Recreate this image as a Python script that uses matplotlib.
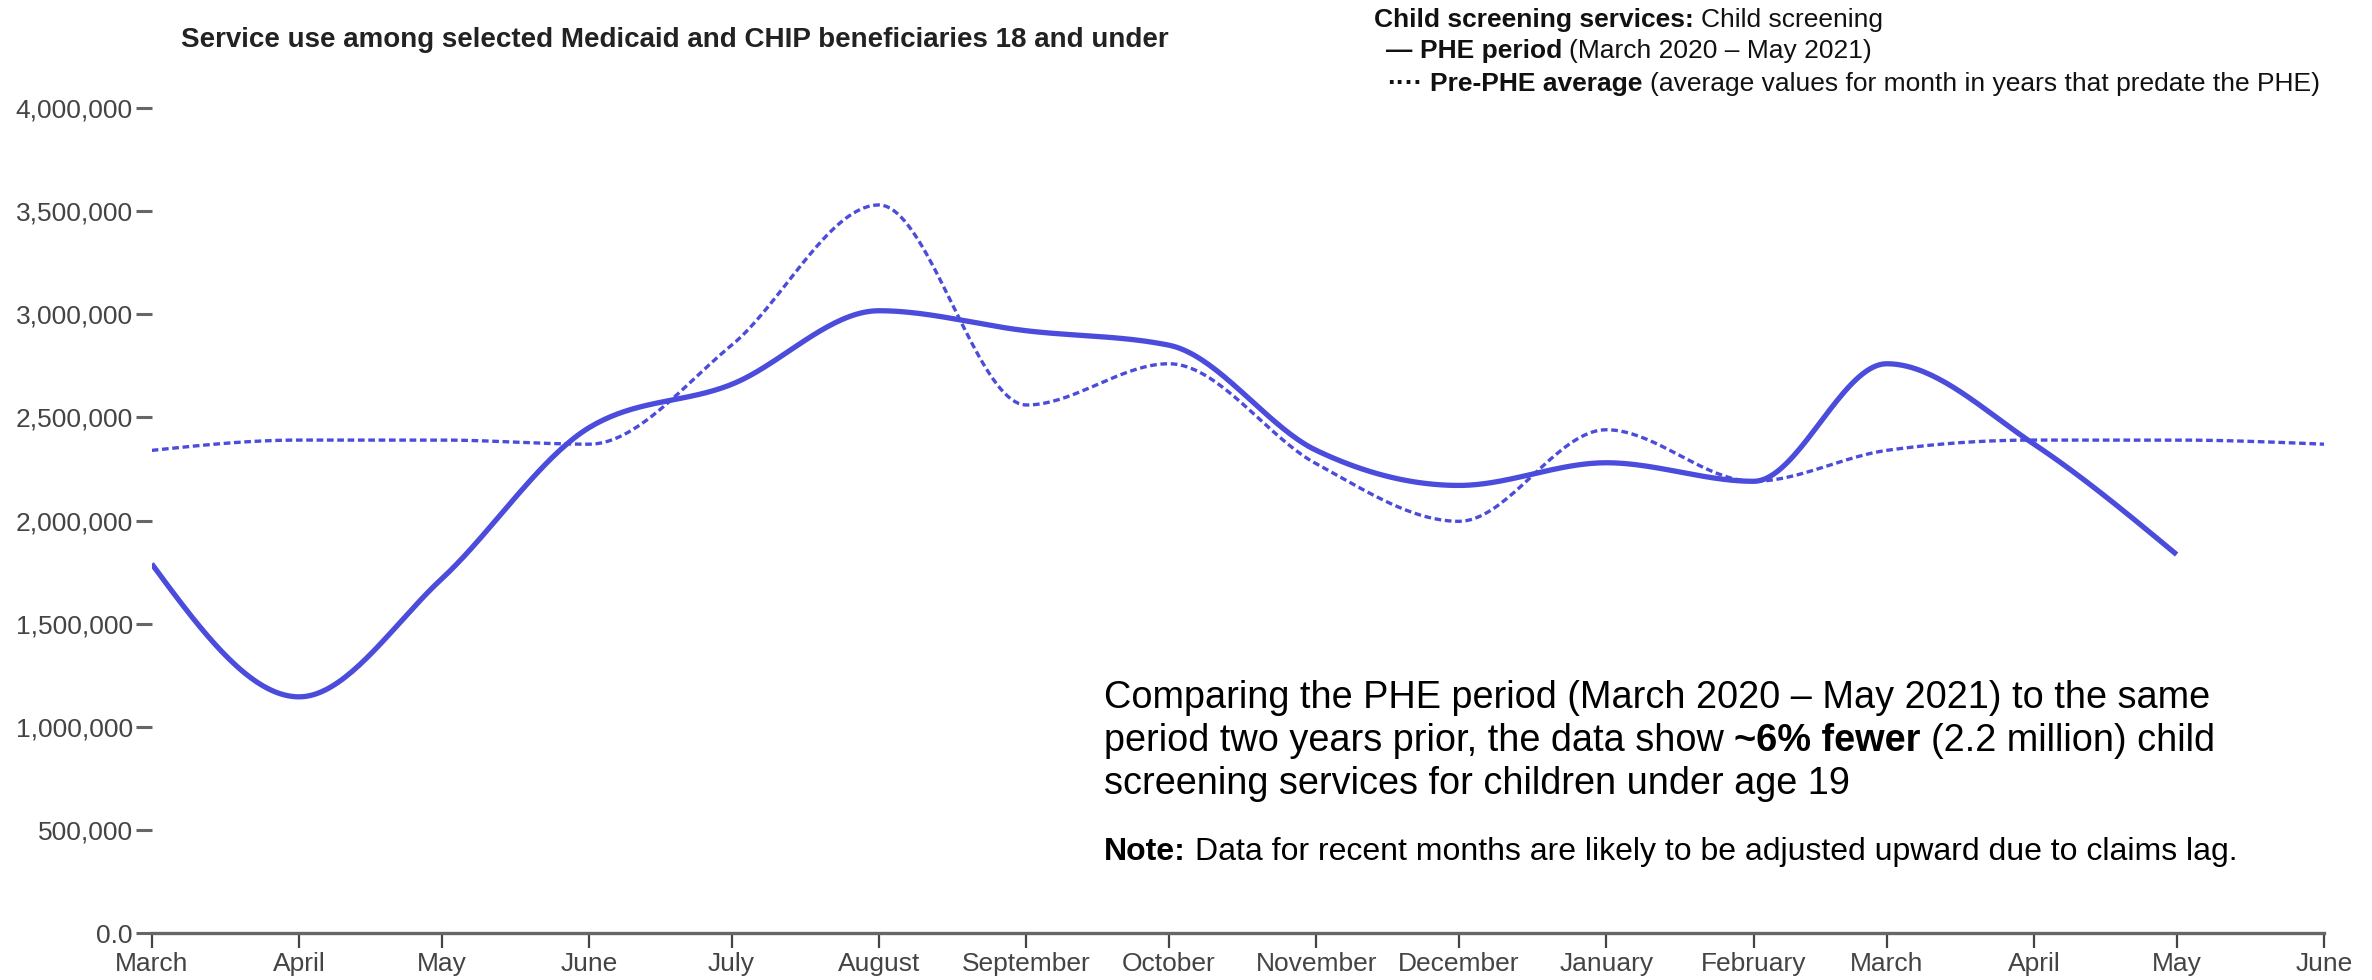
import numpy as np
import matplotlib
matplotlib.use("Agg")
import matplotlib.pyplot as plt
import matplotlib.dates as mdates
from matplotlib.ticker import FixedLocator, FixedFormatter
import datetime as dt

plt.rcParams['font.family'] = ['Liberation Sans', 'DejaVu Sans']

# ---------------- data ----------------
phe_months = ["2020-03", "2020-04", "2020-05", "2020-06", "2020-07", "2020-08", "2020-09",
              "2020-10", "2020-11", "2020-12", "2021-01", "2021-02", "2021-03", "2021-04", "2021-05"]
phe_values = [1790000, 1145000, 1717000, 2450000, 2660000, 3017000, 2920000,
              2850000, 2340000, 2170000, 2280000, 2190000, 2760000, 2370000, 1835000]

pre_months = ["2020-03", "2020-04", "2020-05", "2020-06", "2020-07", "2020-08", "2020-09",
              "2020-10", "2020-11", "2020-12", "2021-01", "2021-02", "2021-03", "2021-04",
              "2021-05", "2021-06"]
pre_values = [2340000, 2390000, 2390000, 2370000, 2850000, 3530000, 2560000,
              2760000, 2275000, 1996000, 2440000, 2190000, 2340000, 2390000,
              2390000, 2370000]

x_tick_months = pre_months
x_tick_labels = ["March", "April", "May", "June", "July", "August", "September", "October",
                 "November", "December", "January", "February", "March", "April", "May", "June"]
y_ticks = [0, 500000, 1000000, 1500000, 2000000, 2500000, 3000000, 3500000, 4000000]
y_tick_labels = ["0.0", "500,000", "1,000,000", "1,500,000", "2,000,000", "2,500,000",
                 "3,000,000", "3,500,000", "4,000,000"]

title = "Service use among selected Medicaid and CHIP beneficiaries 18 and under"

LINE = "#4b4bdc"


def to_num(months):
    return np.array([mdates.date2num(dt.datetime(int(m[:4]), int(m[5:]), 1)) for m in months])


def monotone_x(x, y, n=40):
    """d3.curveMonotoneX-style rendering curve through the given points."""
    x = np.asarray(x, float)
    y = np.asarray(y, float)
    k = len(x)
    h = np.diff(x)
    s = np.diff(y) / h
    t = np.zeros(k)
    for i in range(1, k - 1):
        h0, h1 = h[i - 1], h[i]
        s0, s1 = s[i - 1], s[i]
        p = (s0 * h1 + s1 * h0) / (h0 + h1)
        t[i] = (np.sign(s0) + np.sign(s1)) * min(abs(s0), abs(s1), 0.5 * abs(p))
    t[0] = (3 * s[0] - t[1]) / 2
    t[-1] = (3 * s[-1] - t[-2]) / 2
    xs, ys = [], []
    for i in range(k - 1):
        u = np.linspace(0, 1, n, endpoint=(i == k - 2))
        dx = h[i]
        h00 = 2 * u**3 - 3 * u**2 + 1
        h10 = u**3 - 2 * u**2 + u
        h01 = -2 * u**3 + 3 * u**2
        h11 = u**3 - u**2
        xs.append(x[i] + u * dx)
        ys.append(h00 * y[i] + h10 * dx * t[i] + h01 * y[i + 1] + h11 * dx * t[i + 1])
    return np.concatenate(xs), np.concatenate(ys)


W, H = 2372, 980
fig = plt.figure(figsize=(W / 100, H / 100), dpi=100)
ax = fig.add_axes([151.7 / W, 1 - 933 / H, (2324 - 151.7) / W, (933 - 108) / H])

xp, yp = monotone_x(to_num(pre_months), pre_values)
ax.plot(xp, yp, color=LINE, lw=2.4, linestyle=(0, (2.0, 1.1)), solid_capstyle='butt')
xs, ys = monotone_x(to_num(phe_months), phe_values)
ax.plot(xs, ys, color=LINE, lw=3.8, solid_capstyle='butt')

ax.set_xlim(to_num(["2020-03"])[0], to_num(["2021-06"])[0])
ax.set_ylim(0, 4000000)

ax.xaxis.set_major_locator(FixedLocator(to_num(x_tick_months)))
ax.xaxis.set_major_formatter(FixedFormatter(x_tick_labels))
ax.yaxis.set_major_locator(FixedLocator(y_ticks))
ax.yaxis.set_major_formatter(FixedFormatter(y_tick_labels))

for sp in ["top", "right", "left"]:
    ax.spines[sp].set_visible(False)
ax.spines["bottom"].set_color("#666666")
ax.spines["bottom"].set_linewidth(2.4)
ax.tick_params(axis="y", length=11.5, width=2.2, color="#666666", pad=2,
               labelsize=19, labelcolor="#444444")
ax.tick_params(axis="x", length=11, width=1.6, color="#444444", pad=3,
               labelsize=19, labelcolor="#444444")
ax.patch.set_alpha(0)

renderer = fig.canvas.get_renderer()


def text_w(s, size, weight):
    t = fig.text(0, 0, s, fontsize=size, fontweight=weight)
    w = t.get_window_extent(renderer).width
    t.remove()
    return w


def rich(x_px, y_px, parts, size, color="#111111"):
    x = x_px
    for s, weight in parts:
        lead = len(s) - len(s.lstrip(" "))
        sp = text_w("a a", size, weight) - text_w("aa", size, weight)
        x += lead * sp
        core = s.strip(" ")
        t = fig.text(x / W, 1 - y_px / H, core, fontsize=size, fontweight=weight,
                     color=color, va="center", ha="left")
        x += t.get_window_extent(renderer).width
        trail = len(s) - len(s.rstrip(" "))
        x += trail * sp


fig.text(181 / W, 1 - 40 / H, title, fontsize=20, fontweight="bold", color="#222222",
         va="center", ha="left")

rich(1374, 20, [("Child screening services:", "bold"), (" Child screening", "normal")], 19)
rich(1386, 51, [("—", "bold"), (" PHE period", "bold"), (" (March 2020 – May 2021)", "normal")], 19)
rich(1387, 84, [("····", "bold"), (" Pre-PHE average", "bold"),
                (" (average values for month in years that predate the PHE)", "normal")], 19)

rich(1104, 698, [("Comparing the PHE period (March 2020 – May 2021) to the same", "normal")], 27.3, "#000000")
rich(1104, 741, [("period two years prior, the data show ", "normal"), ("~6% fewer", "bold"),
                 (" (2.2 million) child", "normal")], 27.3, "#000000")
rich(1104, 784, [("screening services for children under age 19", "normal")], 27.3, "#000000")
rich(1104, 852, [("Note:", "bold"),
                 (" Data for recent months are likely to be adjusted upward due to claims lag.", "normal")],
     23, "#000000")

fig.savefig("out.png", dpi=100)
